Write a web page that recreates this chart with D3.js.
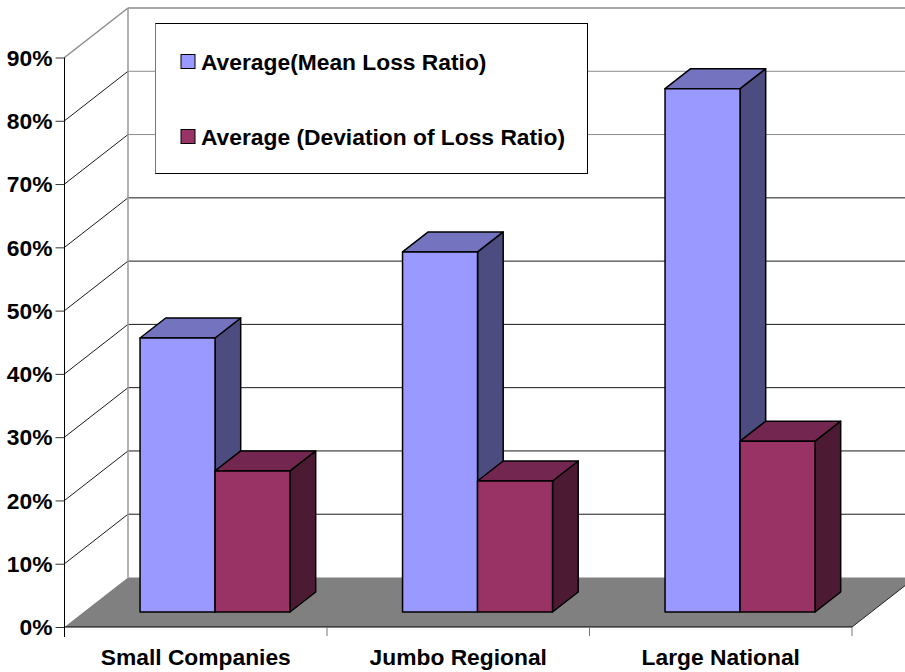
<!DOCTYPE html>
<html>
<head>
<meta charset="utf-8">
<script src="https://cdn.jsdelivr.net/npm/d3@7/dist/d3.min.js"></script>
<style>
html,body{margin:0;padding:0;background:#fff;overflow:hidden}
svg{display:block}
text{font-family:"Liberation Sans",Arial,sans-serif;font-weight:bold;fill:#000}
</style>
</head>
<body>
<svg id="chart" width="905" height="672"></svg>
<script>
// Loss ratios by company group
const categories = ["Small Companies", "Jumbo Regional", "Large National"];
const seriesNames = ["Average(Mean Loss Ratio)", "Average (Deviation of Loss Ratio)"];
const meanLossRatio = [0.433, 0.569, 0.827];
const deviationLossRatio = [0.223, 0.207, 0.27];
const percentTicks = [0, 0.1, 0.2, 0.3, 0.4, 0.5, 0.6, 0.7, 0.8, 0.9];

const frontColors = ["#9999ff", "#993366"];
const topColors = ["#7373bf", "#732650"];
const sideColors = ["#4c4c80", "#4d1a33"];
const FONT_SIZE = 22.8;

const svg = d3.select("#chart");
const x = d3.scaleBand().domain(categories).range([64.5, 852]);
const y = d3.scaleLinear().domain([0, 0.9]).range([627, 57.5]);
const inner = d3.scaleBand().domain(seriesNames).range([56.3, 206.3]);

// Oblique projection: depth 0 is the front plane, depth 1 the back wall
const DX = 63.5, DY = -49.5;
const proj = (px, v, z) => [px + z * DX, y(v) + z * DY];
const poly = pts => "M" + pts.map(p => p.join(",")).join("L") + "Z";
const seg = (a, b, stroke, width) => svg.append("line")
  .attr("x1", a[0]).attr("y1", a[1]).attr("x2", b[0]).attr("y2", b[1])
  .attr("stroke", stroke).attr("stroke-width", width);

const xEnd = x.range()[1], xStart = x.range()[0];
const GREY = "#8c8c8c";

// Back wall gridlines and their returns along the side wall
const gridColor = d => (d === 0.9 || d === 0.8 || d === 0.7 ? GREY : "#1a1a1a");
percentTicks.forEach(d => {
  if (d > 0) {
    seg(proj(xStart, d, 1), proj(xEnd, d, 1), gridColor(d), d === 0.9 ? 1.5 : 1);
    seg(proj(xStart, d, 0), proj(xStart, d, 1), d === 0.9 ? GREY : "#1a1a1a", d === 0.9 ? 1.5 : 1);
  }
});
seg(proj(xStart, 0, 1), proj(xStart, 0.9, 1), "#999", 1.5);

// Floor
svg.append("path")
  .attr("d", poly([proj(xStart, 0, 0), proj(xStart, 0, 1), proj(xEnd, 0, 1), proj(xEnd, 0, 0)]))
  .attr("fill", "#808080");
seg(proj(xEnd, 0, 0), proj(xEnd, 0, 1), "#222", 1);

// Axes
const yAxis = d3.axisLeft(y).tickValues(percentTicks).tickFormat(d3.format(".0%")).tickSize(9).tickPadding(3);
const yG = svg.append("g").attr("transform", `translate(${xStart},0)`).call(yAxis);
yG.select(".domain").remove();
yG.selectAll(".tick line").attr("stroke", "#333");
yG.selectAll("text").attr("font-size", FONT_SIZE).style("font-family", '"Liberation Sans",Arial,sans-serif').style("font-weight", "bold").attr("dy", "0.34em");
seg([xStart, y(0.9)], [xStart, y(0) + 10], "#000", 1);

const xAxis = d3.axisBottom(x).tickSize(0).tickPadding(22);
const xG = svg.append("g").attr("transform", `translate(0,${y(0)})`).call(xAxis);
xG.select(".domain").remove();
xG.selectAll("text").attr("font-size", FONT_SIZE).style("font-family", '"Liberation Sans",Arial,sans-serif').style("font-weight", "bold");
seg([xStart, y(0)], [xEnd, y(0)], "#000", 1);
[...categories.map(c => x(c)), xEnd].forEach(t => seg([t, y(0)], [t, y(0) + 9], t === xStart ? "#000" : "#777", 1));

// Bars with depth
const Z0 = 0.303, Z1 = 0.707;
categories.forEach((c, ci) => {
  [meanLossRatio[ci], deviationLossRatio[ci]].forEach((v, si) => {
    const l = x(c) + inner(seriesNames[si]);
    const r = l + inner.bandwidth();
    const g = svg.append("g").attr("stroke", "#000").attr("stroke-width", 1.5).attr("stroke-linejoin", "round");
    g.append("path").attr("fill", sideColors[si])
      .attr("d", poly([proj(r, 0, Z0), proj(r, 0, Z1), proj(r, v, Z1), proj(r, v, Z0)]));
    g.append("path").attr("fill", topColors[si])
      .attr("d", poly([proj(l, v, Z0), proj(l, v, Z1), proj(r, v, Z1), proj(r, v, Z0)]));
    g.append("path").attr("fill", frontColors[si])
      .attr("d", poly([proj(l, 0, Z0), proj(l, v, Z0), proj(r, v, Z0), proj(r, 0, Z0)]));
  });
});

// Legend
const legend = svg.append("g");
legend.append("rect").attr("x", 155.5).attr("y", 23.5).attr("width", 432).attr("height", 150)
  .attr("fill", "#fff").attr("stroke", "#000").attr("stroke-width", 1);
seg([155.5, 23.5], [155.5, 173.5], "#777", 1);
const legendY = d3.scalePoint().domain(seriesNames).range([62, 137]);
seriesNames.forEach((s, i) => {
  legend.append("rect").attr("x", 181).attr("y", legendY(s) - 7.5).attr("width", 14).attr("height", 14)
    .attr("fill", frontColors[i]).attr("stroke", "#000").attr("stroke-width", 1);
  legend.append("text").attr("x", 201).attr("y", legendY(s)).attr("dy", "0.36em")
    .attr("font-size", FONT_SIZE).text(s);
});
</script>
</body>
</html>
